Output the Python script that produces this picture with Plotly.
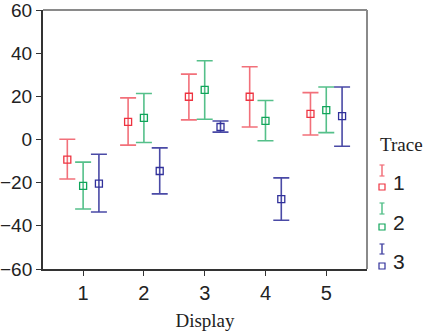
import plotly.graph_objects as go

displays = [1, 2, 3, 4, 5]
trace_names = ["1", "2", "3"]

# means, upper and lower limits
mean_1 = [-9.3, 8.2, 19.8, 19.8, 11.9]
upper_1 = [0.1, 19.3, 30.3, 33.7, 21.7]
lower_1 = [-18.3, -2.6, 9.1, 5.8, 2.1]

mean_2 = [-21.5, 10.0, 23.0, 8.6, 13.6]
upper_2 = [-10.5, 21.3, 36.5, 18.1, 24.3]
lower_2 = [-32.2, -1.4, 9.4, -0.6, 3.2]

mean_3 = [-20.4, -14.6, 5.8, -27.6, 10.8]
upper_3 = [-6.8, -3.9, 8.6, -17.8, 24.3]
lower_3 = [-33.6, -25.2, 3.4, -37.4, -3.1]

offsets = [-0.26, 0.0, 0.26]
colors = ["#ee3340", "#10a55a", "#30309a"]
bar_colors = ["#f2707a", "#55c08a", "#4a4aa6"]

series = [(mean_1, upper_1, lower_1), (mean_2, upper_2, lower_2), (mean_3, upper_3, lower_3)]

fig = go.Figure()
for i, (m, u, l) in enumerate(series):
    fig.add_trace(go.Scatter(
        x=[d + offsets[i] for d in displays],
        y=m,
        mode="markers",
        name=trace_names[i],
        showlegend=False,
        marker=dict(symbol="square-open", size=7, color=colors[i], line=dict(width=1.3, color=colors[i])),
        error_y=dict(type="data", symmetric=False,
                     array=[uu - mm for uu, mm in zip(u, m)],
                     arrayminus=[mm - ll for mm, ll in zip(m, l)],
                     color=bar_colors[i], thickness=1.6, width=8),
    ))

W, H = 423, 333
L, R, T, B = 43, 367, 10, 269


def px_x(p):
    return (p - L) / (R - L)


def px_y(p):
    return (B - p) / (B - T)


shapes = [
    # frame: top and right in gray
    dict(type="line", xref="paper", yref="paper", x0=0, x1=1, y0=1, y1=1, line=dict(color="#8a8a8a", width=2)),
    dict(type="line", xref="paper", yref="paper", x0=1, x1=1, y0=0, y1=1, line=dict(color="#8a8a8a", width=2)),
]
annotations = [
    dict(text="Trace", xref="paper", yref="paper", x=px_x(378), y=px_y(144), xanchor="left", yanchor="middle",
         showarrow=False, font=dict(family="Liberation Serif", size=19, color="#222")),
]
# legend glyphs: "I" error symbol, small square, and label
glyph_i = [(165, 176, 187), (203, 214, 227), (244, 254, 266)]
label_y = [182, 222, 261]
for i in range(3):
    top, bot, sq = glyph_i[i]
    cx = 382
    shapes += [
        dict(type="line", xref="paper", yref="paper", x0=px_x(cx), x1=px_x(cx), y0=px_y(top), y1=px_y(bot),
             line=dict(color=bar_colors[i], width=1.5)),
        dict(type="line", xref="paper", yref="paper", x0=px_x(cx - 2.5), x1=px_x(cx + 2.5), y0=px_y(top), y1=px_y(top),
             line=dict(color=bar_colors[i], width=1.2)),
        dict(type="line", xref="paper", yref="paper", x0=px_x(cx - 2.5), x1=px_x(cx + 2.5), y0=px_y(bot), y1=px_y(bot),
             line=dict(color=bar_colors[i], width=1.2)),
        dict(type="rect", xref="paper", yref="paper", x0=px_x(cx - 3), x1=px_x(cx + 3), y0=px_y(sq - 3), y1=px_y(sq + 3),
             line=dict(color=colors[i], width=1.2)),
    ]
    annotations.append(dict(text=trace_names[i], xref="paper", yref="paper", x=px_x(391), y=px_y(label_y[i]),
                            xanchor="left", yanchor="middle", showarrow=False,
                            font=dict(family="Liberation Sans", size=21, color="#222")))

fig.update_layout(
    width=W, height=H,
    margin=dict(l=L, r=W - R, t=T, b=H - B, pad=0, autoexpand=False),
    paper_bgcolor="white", plot_bgcolor="white",
    showlegend=False,
    shapes=shapes,
    annotations=annotations,
    xaxis=dict(range=[0.34, 5.67], tickvals=displays, ticktext=[str(d) for d in displays],
               automargin=False, ticklabeloverflow="allow",
               showgrid=False, zeroline=False, showline=True, linecolor="#333", linewidth=2,
               ticks="outside", ticklen=5, tickcolor="#333", tickwidth=1,
               tickfont=dict(family="Liberation Sans", size=20, color="#222"),
               title=dict(text="Display", font=dict(family="Liberation Serif", size=19, color="#222"), standoff=11)),
    yaxis=dict(range=[-60, 60], tickvals=[-60, -40, -20, 0, 20, 40, 60],
               automargin=False, ticklabeloverflow="allow",
               showgrid=False, zeroline=False, showline=True, linecolor="#333", linewidth=2,
               ticks="outside", ticklen=5, tickcolor="#333", tickwidth=1,
               tickfont=dict(family="Liberation Sans", size=19, color="#222")),
)

fig.write_html("out.html", config={"displayModeBar": False},
               post_script="document.body.style.margin='0';")
